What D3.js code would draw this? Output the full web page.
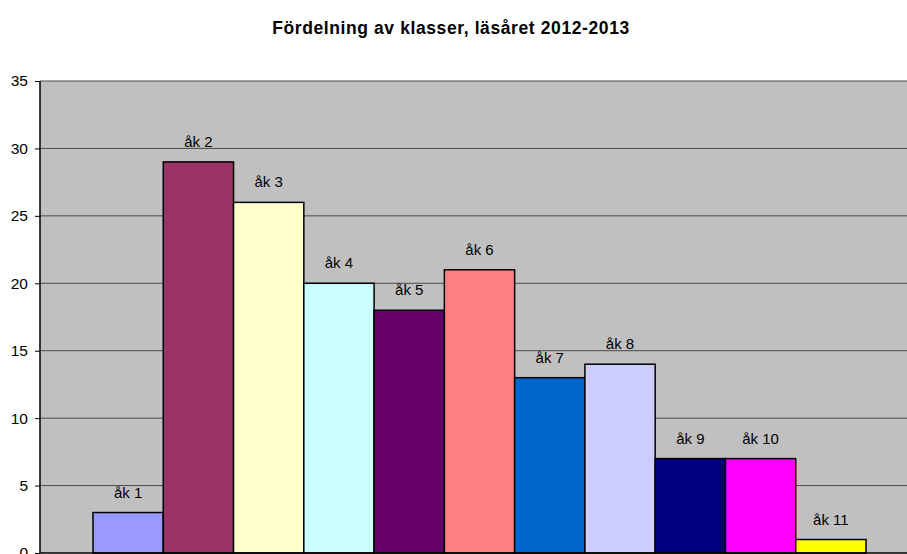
<!DOCTYPE html>
<html>
<head>
<meta charset="utf-8">
<script src="https://cdn.jsdelivr.net/npm/d3@7"></script>
<style>
  body { margin: 0; background: #fff; }
  svg { display: block; font-family: "Liberation Sans", Arial, sans-serif; }
</style>
</head>
<body>
<div id="chart"></div>
<script>
// data
const classes = ["åk 1", "åk 2", "åk 3", "åk 4", "åk 5", "åk 6", "åk 7", "åk 8", "åk 9", "åk 10", "åk 11"];
const counts = [3, 29, 26, 20, 18, 21, 13, 14, 7, 7, 1];
const colors = ["#9999FF", "#993366", "#FFFFCC", "#CCFFFF", "#660066", "#FF8080",
                "#0066CC", "#CCCCFF", "#000080", "#FF00FF", "#FFFF00"];
const yTicks = [0, 5, 10, 15, 20, 25, 30, 35];

const width = 907, height = 554;
const plot = { left: 40, top: 81, right: 920, bottom: 553 };

const svg = d3.select("#chart")
  .append("svg")
  .attr("width", width)
  .attr("height", height);

// title
svg.append("text")
  .attr("x", 451)
  .attr("y", 34)
  .attr("text-anchor", "middle")
  .attr("font-size", "17.5px")
  .attr("font-weight", "bold")
  .attr("letter-spacing", "0.6px")
  .text("Fördelning av klasser, läsåret 2012-2013");

const y = d3.scaleLinear()
  .domain([0, 35])
  .range([plot.bottom, plot.top]);

// bars sit together in one cluster, gap on each side
const x = d3.scaleBand()
  .domain(classes)
  .range([93, 866])
  .padding(0);

// plot background
svg.append("rect")
  .attr("x", plot.left)
  .attr("y", plot.top)
  .attr("width", plot.right - plot.left)
  .attr("height", plot.bottom - plot.top)
  .attr("fill", "#C0C0C0");

// gridlines
svg.selectAll(".grid")
  .data(yTicks.filter(d => d > 0))
  .join("line")
  .attr("x1", plot.left)
  .attr("x2", plot.right)
  .attr("y1", d => y(d))
  .attr("y2", d => y(d))
  .attr("stroke", "#4a4a4a")
  .attr("stroke-width", 1);

// bars
svg.selectAll(".bar")
  .data(counts)
  .join("rect")
  .attr("x", (d, i) => x(classes[i]))
  .attr("y", d => y(d))
  .attr("width", x.bandwidth())
  .attr("height", d => y(0) - y(d))
  .attr("fill", (d, i) => colors[i])
  .attr("stroke", "#000")
  .attr("stroke-width", 1.5);

// labels above bars
svg.selectAll(".lbl")
  .data(counts)
  .join("text")
  .attr("x", (d, i) => x(classes[i]) + x.bandwidth() / 2)
  .attr("y", d => y(d) - 15)
  .attr("text-anchor", "middle")
  .attr("font-size", "15px")
  .attr("fill", "#000")
  .text((d, i) => classes[i]);

// y axis
const yAxis = svg.append("g")
  .attr("transform", `translate(${plot.left},0)`)
  .call(d3.axisLeft(y).tickValues(yTicks).tickSize(5).tickPadding(7));
yAxis.select(".domain").attr("stroke", "#000").attr("stroke-width", 1.5)
  .attr("d", `M0,${plot.top}V${plot.bottom}`);
yAxis.selectAll(".tick line").attr("stroke", "#000");
yAxis.selectAll(".tick text")
  .attr("font-size", "15.5px")
  .attr("font-family", "Liberation Sans, Arial, sans-serif")
  .attr("fill", "#000");

// x axis line at bottom
svg.append("line")
  .attr("x1", plot.left)
  .attr("x2", plot.right)
  .attr("y1", plot.bottom)
  .attr("y2", plot.bottom)
  .attr("stroke", "#000")
  .attr("stroke-width", 1.5);
</script>
</body>
</html>
